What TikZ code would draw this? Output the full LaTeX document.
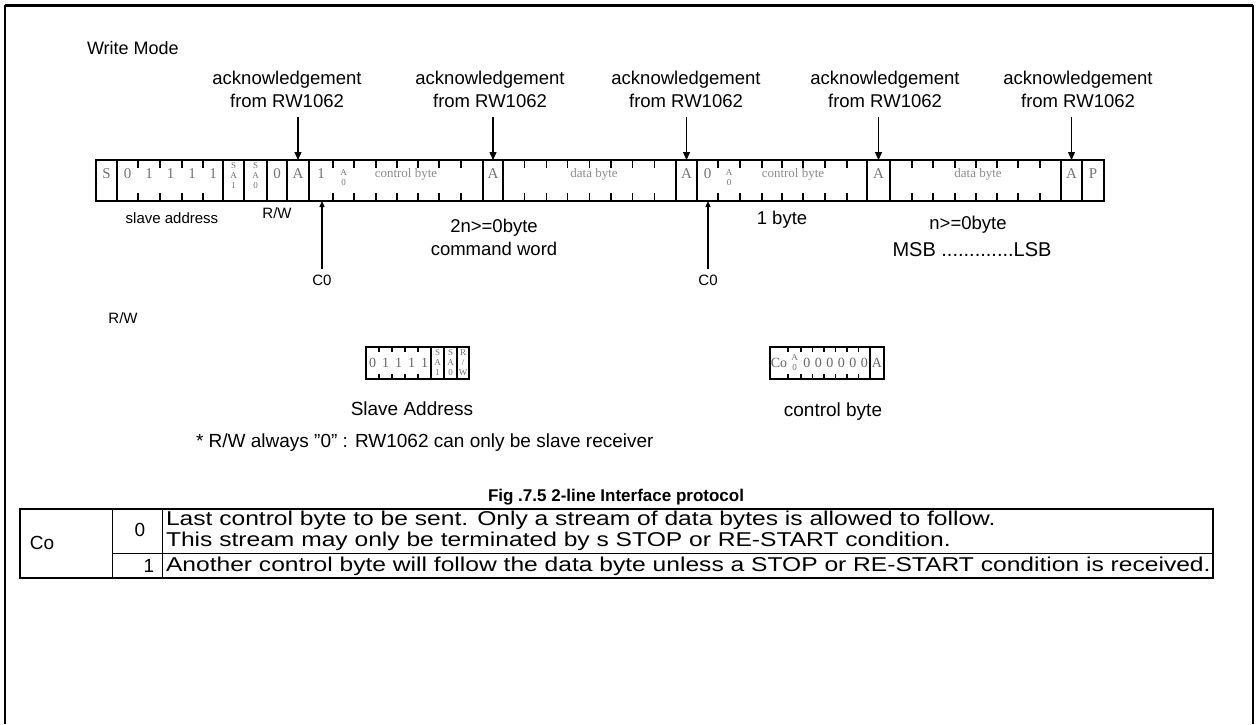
\documentclass[tikz,border=0pt]{standalone}
\usepackage{fontspec}
\setmainfont{Liberation Sans}
\newfontfamily\cellfont{Liberation Serif}
\usetikzlibrary{arrows.meta}
\newcommand\tabstretch[1]{\scalebox{1.23}[1]{#1}}
\begin{document}
\begin{tikzpicture}[x=1pt,y=-1pt,
  every node/.style={inner sep=0pt, outer sep=0pt},
  titlef/.style={font=\fontsize{18}{21}\selectfont},
  lbl/.style={font=\fontsize{18.5}{23}\selectfont, align=center},
  sml/.style={font=\fontsize{15}{17}\selectfont},
  mid/.style={font=\fontsize{19}{22}\selectfont},
  cell/.style={font=\cellfont\fontsize{15}{17}\selectfont, text=black!55},
  regd/.style={font=\cellfont\fontsize{14}{16}\selectfont, text=black!60},
  cellsm/.style={font=\cellfont\fontsize{13}{15}\selectfont, text=black!45},
  stk/.style={font=\cellfont\fontsize{9}{10}\selectfont, text=black!55, align=center},
  regline/.style={line width=1.6pt},
  tk/.style={line width=1.3pt},
  ackarr/.style={line width=1.3pt, -{Triangle[length=8pt,width=7pt]}},
  coarr/.style={line width=1.3pt, -{Triangle[length=6pt,width=5pt]}},
  tabtxt/.style={font=\fontsize{20}{22}\selectfont, anchor=west},
  tabnum/.style={font=\fontsize{19}{21}\selectfont},
]
\useasboundingbox (0,0) rectangle (1258,724);
% outer frame
\draw[line width=3pt] (5,5) -- (1253,5);
\draw[line width=1.5pt] (5,5) -- (5,724) (1253,5) -- (1253,724);

\node[titlef, anchor=west] (wm) at (87,48) {Write Mode};

% acknowledgement labels and arrows
\foreach \i/\lx/\ax in {1/287/298,2/490/493,3/686/686.5,4/885/878.5,5/1078/1071.5}{
  \node[lbl] (ack\i) at (\lx,89.5) {acknowledgement\\from RW1062};
  \coordinate (af\i) at (\ax,117);
  \coordinate (at\i) at (\ax,160);
  \draw[ackarr] (af\i) -- (at\i);
}

% main register bar
\draw[regline] (96,160) rectangle (1104,201);
\foreach \x in {117,223,244,267,287,309,483,503,676,697,867,890,1061,1082}
  \draw[regline] (\x,160) -- (\x,201);
\foreach \x in {138,160,182,203, 333,354,376,397,418,439,461, 524.6,546.2,567.8,589.4,611,632.6,654.2, 718,740,762,782,803,825,847, 912,933,955,976,997,1018,1040}
  \draw[tk] (\x,160) -- (\x,168) (\x,193) -- (\x,201);

\node[cell] (cS) at (106.5,174) {S};
\foreach \i/\x/\t in {1/127.5/0,2/149/1,3/170.5/1,4/192/1,5/213/1}
  \node[cell] (sad\i) at (\x,174) {\t};
\node[stk] (sa1) at (233.5,176) {S\\A\\1};
\node[stk] (sa0) at (255.5,176) {S\\A\\0};
\node[cell] (rwz) at (277,174) {0};
\node[cell] (ca1) at (298,174) {A};
\node[cell] (cone) at (321,174) {1};
\node[stk] (aa1) at (343.5,178) {A\\0};
\node[cellsm] (cb1) at (406,174) {control byte};
\node[cell] (ca2) at (493,174) {A};
\node[cellsm] (db1) at (594,174) {data byte};
\node[cell] (ca3) at (686.5,174) {A};
\node[cell] (czero) at (707.5,174) {0};
\node[stk] (aa2) at (729,178) {A\\0};
\node[cellsm] (cb2) at (793,174) {control byte};
\node[cell] (ca4) at (878.5,174) {A};
\node[cellsm] (db2) at (978,174) {data byte};
\node[cell] (ca5) at (1071.5,174) {A};
\node[cell] (cP) at (1093,174) {P};

% labels below bar
\node[sml] (sladdr) at (172,218) {slave address};
\node[sml] (rwlbl) at (277,213) {R/W};
\node[lbl] (cmd) at (494,237.5) {2n>=0byte\\command word};
\node[lbl] (onebyte) at (782,220) {1 byte};
\node[lbl] (nbyte) at (968,225) {n>=0byte};
\node[lbl, font=\fontsize{20}{23}\selectfont] (msb) at (972,250) {MSB .............LSB};

% C0 arrows
\node[sml] (co1) at (322,280) {C0};
\node[sml] (co2) at (708,280) {C0};
\coordinate (cbt1) at (322,201);
\coordinate (cbt2) at (708,201);
\draw[coarr] ([yshift=6pt]co1.north) -- (cbt1);
\draw[coarr] ([yshift=6pt]co2.north) -- (cbt2);

\node[sml] (rwleft) at (123,318) {R/W};

% slave address register (left edge at \sx)
\begin{scope}[xshift=-62pt]
\draw[regline] (428,347) rectangle (531,379);
\foreach \x in {493,506,519} \draw[regline] (\x,347) -- (\x,379);
\foreach \x in {441,454,467,480} \draw[tk] (\x,347) -- (\x,352) (\x,374) -- (\x,379);
\foreach \i/\x/\t in {1/434.5/0,2/447.5/1,3/460.5/1,4/473.5/1,5/486.5/1}
  \node[regd] (ssd\i) at (\x,363) {\t};
\node[stk] (ssa1) at (499.5,363) {S\\A\\1};
\node[stk] (ssa0) at (512.5,363) {S\\A\\0};
\node[stk] (srw) at (525,363) {R\\/\\W};
\end{scope}
\node[mid] (slbl) at (412,409) {Slave Address};

% control byte register
\begin{scope}[xshift=8pt]
\draw[regline] (762,347) rectangle (876,379);
\draw[regline] (862,347) -- (862,379);
\foreach \x in {780,793,804.5,816,827.5,839,850.5} \draw[tk] (\x,347) -- (\x,352) (\x,374) -- (\x,379);
\node[regd] (cco) at (771,363) {Co};
\node[stk] (ca0) at (786.5,363) {A\\0};
\foreach \i/\x in {1/798.75,2/810.25,3/821.75,4/833.25,5/844.75,6/856.25}
  \node[regd] (cz\i) at (\x,363) {0};
\node[regd] (cA) at (869,363) {A};
\end{scope}
\node[mid] (clbl) at (833,412) {control byte};

\node[mid, anchor=west] (note) at (196,443) {* R/W always "0" : RW1062 can only be slave receiver};

% caption and table
\node[font=\bfseries\fontsize{17}{20}\selectfont] (cap) at (616,497) {Fig .7.5 2-line Interface protocol};
\draw[line width=1.5pt] (20,509) rectangle (1213,578);
\draw[line width=1pt] (112,509) -- (112,578) (162,509) -- (162,578) (112,553) -- (1213,553);
\node[tabnum] (tco) at (42,543) {Co};
\node[tabnum] (tz) at (140,530) {0};
\node[tabnum] (to) at (149,566) {1};
\node[tabtxt] (t1) at (166,520) {\tabstretch{Last control byte to be sent. Only a stream of data bytes is allowed to follow.}};
\node[tabtxt] (t2) at (166,541) {\tabstretch{This stream may only be terminated by s STOP or RE-START condition.}};
\node[tabtxt] (t3) at (166,566) {\tabstretch{Another control byte will follow the data byte unless a STOP or RE-START condition is received.}};
\end{tikzpicture}
\end{document}
